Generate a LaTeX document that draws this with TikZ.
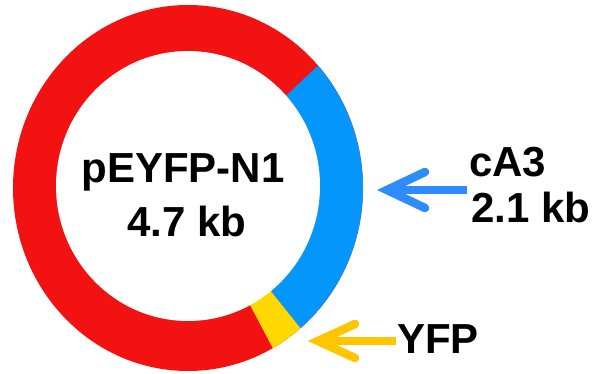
\documentclass[tikz,border=0pt]{standalone}
\usepackage{fontspec}
\setmainfont{Liberation Sans}
\begin{document}
\begin{tikzpicture}[x=1pt,y=-1pt,
  lbl/.style={font=\bfseries\fontsize{42}{42}\selectfont, inner sep=0pt},
  shaft/.style={line width=8.5pt, line cap=butt},
  barbs/.style={line width=8.5pt, line cap=round, line join=miter, miter limit=10}]
\definecolor{ringred}{RGB}{243,18,18}
\definecolor{ringblue}{RGB}{4,150,250}
\definecolor{ringyellow}{RGB}{255,216,0}
\definecolor{arrblue}{RGB}{45,140,250}
\definecolor{arryellow}{RGB}{255,198,0}
\useasboundingbox (0,0) rectangle (600,374);
\fill[white] (0,0) rectangle (600,374);

% plasmid ring: backbone, insert and reporter sectors, then the hole
\fill[ringred] (188,188) ellipse [x radius=175, y radius=183];
\fill[ringblue] (188,188) -- plot[domain=-50:42, samples=80]
  ({188+175*cos(\x)},{188-183*sin(\x)}) -- cycle;
\fill[ringyellow] (188,188) -- plot[domain=-61:-50, samples=20]
  ({188+175*cos(\x)},{188-183*sin(\x)}) -- cycle;
\fill[white] (188,186) ellipse [x radius=132, y radius=135];

% labels
\node[lbl, anchor=base] (name) at (183,182.5) {pEYFP-N1};
\node[lbl, anchor=base] (size) at (187,237) {4.7 kb};
\node[lbl, anchor=base west] (ins) at (469,177) {cA3};
\node[lbl, anchor=base west] (inssize) at (471,223) {2.1 kb};
\node[lbl, anchor=base west] (yfp) at (397,353) {YFP};

% insert arrow
\coordinate (btail) at (467,190);
\coordinate (btip) at (387,190);
\draw[arrblue, shaft] (btail) -- (btip);
\draw[arrblue, barbs] ([shift={(38,-18)}]btip) -- (btip) -- ([shift={(38,18)}]btip);

% reporter arrow
\coordinate (ytail) at (396,341);
\coordinate (ytip) at (318,341);
\draw[arryellow, shaft] (ytail) -- (ytip);
\draw[arryellow, barbs] ([shift={(37,-17)}]ytip) -- (ytip) -- ([shift={(37,17)}]ytip);
\end{tikzpicture}
\end{document}
